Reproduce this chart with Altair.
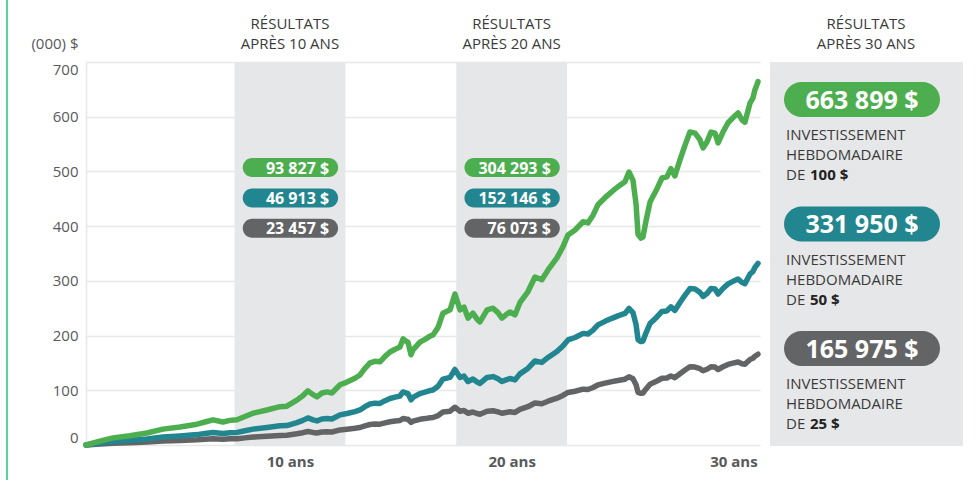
import altair as alt
import pandas as pd

# ---------------- data ----------------
years = [0.80, 1.43, 2.02, 2.78, 3.55, 4.27, 5.04, 5.81, 6.17, 6.53,
         6.98, 7.29, 7.61, 7.97, 8.33, 8.96, 9.55, 9.86, 10.31, 10.58,
         10.81, 11.04, 11.22, 11.44, 11.67, 11.89, 12.26, 12.57, 12.93, 13.16,
         13.38, 13.61, 13.83, 14.06, 14.29, 14.51, 14.74, 14.96, 15.10, 15.23,
         15.32, 15.46, 15.55, 15.73, 15.86, 16.09, 16.32, 16.45, 16.68, 16.90,
         17.22, 17.44, 17.67, 17.85, 18.03, 18.25, 18.44, 18.57, 18.89, 19.16,
         19.38, 19.56, 19.74, 19.92, 20.15, 20.37, 20.73, 21.05, 21.36, 21.64,
         22.04, 22.31, 22.54, 22.86, 23.22, 23.44, 23.67, 23.89, 24.21, 24.52,
         24.79, 25.11, 25.29, 25.47, 25.61, 25.70, 25.83, 25.92, 26.06, 26.24,
         26.55, 26.78, 27.00, 27.18, 27.36, 27.59, 27.82, 28.04, 28.27, 28.49,
         28.63, 28.81, 28.99, 29.17, 29.31, 29.53, 29.76, 29.98, 30.21, 30.39,
         30.52, 30.75, 30.88, 30.97, 31.11]

invest_100 = [0, 7, 13, 17, 22, 29, 33, 38, 42, 46,
              42, 45, 46, 52, 58, 64, 70, 71, 82, 90,
              99, 92, 88, 95, 97, 95, 110, 115, 122, 128,
              140, 150, 153, 152, 162, 170, 175, 179, 194, 190,
              188, 165, 174, 182, 188, 193, 199, 201, 215, 241,
              247, 276, 247, 252, 232, 241, 230, 225, 247, 250,
              242, 232, 238, 243, 238, 260, 280, 307, 302, 320,
              342, 362, 384, 393, 408, 406, 420, 439, 452, 463,
              472, 481, 499, 484, 440, 385, 378, 380, 410, 444,
              468, 488, 490, 505, 492, 521, 548, 572, 570, 558,
              543, 554, 572, 570, 552, 572, 589, 598, 607, 594,
              590, 625, 634, 649, 664]

invest_50 = [0, 3.5, 6.5, 8.5, 11, 14.5, 16.5, 19, 21, 23,
             21, 22.5, 23, 26, 29, 32, 35, 35.5, 41, 45,
             49.5, 46, 44, 47.5, 48.5, 47.5, 55, 57.5, 61, 64,
             70, 75, 76.5, 76, 81, 85, 87.5, 89.5, 97, 95,
             94, 82.5, 87, 91, 94, 96.5, 99.5, 100.5, 107.5, 120.5,
             123.5, 138, 123.5, 126, 116, 120.5, 115, 112.5, 123.5, 125,
             121, 116, 119, 121.5, 119, 130, 140, 153.5, 151, 160,
             171, 181, 192, 196.5, 204, 203, 210, 219.5, 226, 231.5,
             236, 240.5, 249.5, 242, 220, 192.5, 189, 190, 205, 222,
             234, 244, 245, 252.5, 246, 260.5, 274, 286, 285, 279,
             271.5, 277, 286, 285, 276, 286, 294.5, 299, 303.5, 297,
             295, 312.5, 317, 324.5, 332]

invest_25 = [0, 1.75, 3.25, 4.25, 5.5, 7.25, 8.25, 9.5, 10.5, 11.5,
             10.5, 11.25, 11.5, 13, 14.5, 16, 17.5, 17.75, 20.5, 22.5,
             24.75, 23, 22, 23.75, 24.25, 23.75, 27.5, 28.75, 30.5, 32,
             35, 37.5, 38.25, 38, 40.5, 42.5, 43.75, 44.75, 48.5, 47.5,
             47, 41.25, 43.5, 45.5, 47, 48.25, 49.75, 50.25, 53.75, 60.25,
             61.75, 69, 61.75, 63, 58, 60.25, 57.5, 56.25, 61.75, 62.5,
             60.5, 58, 59.5, 60.75, 59.5, 65, 70, 76.75, 75.5, 80,
             85.5, 90.5, 96, 98.25, 102, 101.5, 105, 109.75, 113, 115.75,
             118, 120.25, 124.75, 121, 110, 96.25, 94.5, 95, 102.5, 111,
             117, 122, 122.5, 126.25, 123, 130.25, 137, 143, 142.5, 139.5,
             135.75, 138.5, 143, 142.5, 138, 143, 147.25, 149.5, 151.75, 148.5,
             147.5, 156.25, 158.5, 162.25, 166]

series_colors = ["#4cae4f", "#21868f", "#636466"]
amounts = ["100 $", "50 $", "25 $"]
labels_10 = ["93 827 $", "46 913 $", "23 457 $"]
labels_20 = ["304 293 $", "152 146 $", "76 073 $"]
labels_30 = ["663 899 $", "331 950 $", "165 975 $"]
milestones = [10, 20]
band_start = [7.5, 17.5]
band_end = [12.5, 22.5]
tick_years = [10, 20, 30]
y_ticks = [0, 100, 200, 300, 400, 500, 600, 700]
header_top = "RÉSULTATS"
header_bottom = ["APRÈS 10 ANS", "APRÈS 20 ANS", "APRÈS 30 ANS"]
desc_1 = "INVESTISSEMENT"
desc_2 = "HEBDOMADAIRE"
desc_3 = "DE"

# ---------------- layout ----------------
FONT = "Open Sans"
W, H = 674, 383
PAD = {"left": 86, "top": 62, "right": 217, "bottom": 42}
BAND = "#e6e7e8"
HDR_SIZE = 15
DESC_SIZE = 15

xscale = alt.Scale(domain=[0.8, 31.2], nice=False, zero=False)
yscale = alt.Scale(domain=[0, 700], nice=False, zero=False)
xaxis = alt.Axis(values=tick_years, labelExpr="datum.value + ' ans'", title=None,
                 grid=False, ticks=False, domain=False, labelFont=FONT,
                 labelFontSize=15, labelFontWeight="bold", labelColor="#58595b",
                 labelPadding=9, labelFlush=False)
yaxis = alt.Axis(values=y_ticks, title="(000) $", titleAngle=0, titleAlign="right",
                 titleBaseline="middle", titleX=-8, titleY=-19, titleFont=FONT,
                 titleFontSize=15, titleFontWeight="normal", titleColor="#58595b",
                 grid=True, gridColor="#e8e8e8", gridWidth=1.5, ticks=False,
                 domain=True, domainColor="#e8e8e8", domainWidth=1.5,
                 labelFont=FONT, labelFontSize=15, labelColor="#58595b", labelPadding=8,
                 labelFlush=True, labelFlushOffset=0)


def X(f):
    return alt.X(f, type="quantitative", scale=xscale, axis=xaxis)


def Y(f):
    return alt.Y(f, type="quantitative", scale=yscale, axis=yaxis)


layers = []

# mint vertical line at far left
layers.append(alt.Chart(pd.DataFrame({"a": [0]})).mark_rule(color="#5ccf9f", strokeWidth=2).encode(
    x=alt.value(-79), y=alt.value(-62), y2=alt.value(418)))

# shaded bands
bands_df = pd.DataFrame({"start": band_start, "end": band_end})
layers.append(alt.Chart(bands_df).mark_rect(color=BAND).encode(
    x=X("start"), x2="end", y=alt.value(0), y2=alt.value(H)))

# lines (green drawn last, on top)
for vals, col in reversed(list(zip([invest_100, invest_50, invest_25], series_colors))):
    df = pd.DataFrame({"t": years, "v": vals})
    layers.append(alt.Chart(df).mark_line(color=col, strokeWidth=5.5, strokeCap="round",
                                          strokeJoin="round").encode(x=X("t"), y=Y("v")))

# milestone pills (10 & 20 years)
rows = []
for m, labs in zip(milestones, [labels_10, labels_20]):
    for i, (lab, col) in enumerate(zip(labs, series_colors)):
        yc = 507 - i * 55.5
        rows.append({"lo": m - 2.13, "hi": m + 2.17, "ylo": yc - 17.4, "yhi": yc + 17.4,
                     "yc": yc, "label": lab, "fill": col})
pills_df = pd.DataFrame(rows)
layers.append(alt.Chart(pills_df).mark_rect(cornerRadius=9.5).encode(
    x=X("lo"), x2="hi", y=Y("ylo"), y2="yhi", color=alt.Color("fill:N", scale=None)))
layers.append(alt.Chart(pills_df).mark_text(align="right", baseline="middle", dx=-9, dy=1,
                                            font=FONT, fontSize=16, fontWeight="bold",
                                            color="white").encode(
    x=X("hi"), y=Y("yc"), text="label:N"))

# headers over bands
hdr_df = pd.DataFrame({"yr": milestones, "l1": [header_top] * 2, "l2": header_bottom[:2]})
for field, yv in [("l1", -38), ("l2", -18)]:
    layers.append(alt.Chart(hdr_df).mark_text(align="center", baseline="middle", font=FONT,
                                              fontSize=HDR_SIZE, color="#3a3a3a").encode(
        x=X("yr"), y=alt.value(yv), text=f"{field}:N"))

# right panel
layers.append(alt.Chart(pd.DataFrame({"a": [0]})).mark_rect(color=BAND).encode(
    x=alt.value(684), x2=alt.value(877), y=alt.value(0), y2=alt.value(384)))

ptext = [{"px": 780, "py": -38, "t": header_top, "w": "normal", "s": HDR_SIZE, "c": "#3a3a3a", "al": "center"},
         {"px": 780, "py": -18, "t": header_bottom[2], "w": "normal", "s": HDR_SIZE, "c": "#3a3a3a", "al": "center"}]
prect = []
for i, (lab, col, amt) in enumerate(zip(labels_30, series_colors, amounts)):
    yc = 37.5 + i * 124.5
    prect.append({"x0": 698, "x1": 854, "y0": yc - 17.5, "y1": yc + 17.5, "fill": col})
    ptext.append({"px": 776, "py": yc + 1, "t": lab, "w": "bold", "s": 25, "c": "white", "al": "center"})
    ptext.append({"px": 700, "py": yc + 35.5, "t": desc_1, "w": "normal", "s": DESC_SIZE, "c": "#3a3a3a", "al": "left"})
    ptext.append({"px": 700, "py": yc + 55.5, "t": desc_2, "w": "normal", "s": DESC_SIZE, "c": "#3a3a3a", "al": "left"})
    ptext.append({"px": 700, "py": yc + 75.5, "t": desc_3, "w": "normal", "s": DESC_SIZE, "c": "#3a3a3a", "al": "left"})
    ptext.append({"px": 724, "py": yc + 75.5, "t": amt, "w": "bold", "s": DESC_SIZE, "c": "#222222", "al": "left"})

prect_df = pd.DataFrame(prect)
layers.append(alt.Chart(prect_df).mark_rect(cornerRadius=17.5).encode(
    x=alt.X("x0:Q", scale=None), x2="x1:Q", y=alt.Y("y0:Q", scale=None), y2="y1:Q",
    color=alt.Color("fill:N", scale=None)))

ptext_df = pd.DataFrame(ptext)
for (w, s, al), sub in ptext_df.groupby(["w", "s", "al"]):
    layers.append(alt.Chart(sub).mark_text(baseline="middle", font=FONT, fontSize=int(s),
                                           fontWeight=w, align=al).encode(
        x=alt.X("px:Q", scale=None), y=alt.Y("py:Q", scale=None), text="t:N",
        color=alt.Color("c:N", scale=None)))

chart = alt.layer(*layers).properties(
    width=W, height=H, padding=PAD, autosize=alt.AutoSizeParams(type="none"),
    background="white"
).configure_view(stroke=None)

chart.save("out.html", embed_options={"renderer": "svg", "actions": False})
